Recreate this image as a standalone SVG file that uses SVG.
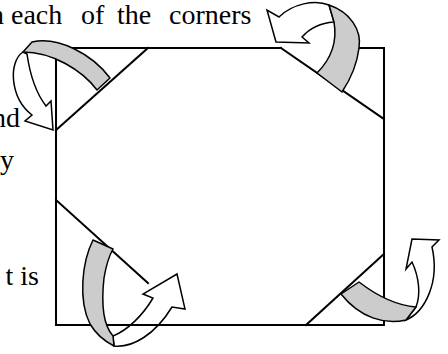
<svg xmlns="http://www.w3.org/2000/svg" width="448" height="354" viewBox="0 0 448 354">
<style>
.t{font-family:"Liberation Serif","Times New Roman",serif;font-size:28px;fill:#000}
.edge{stroke:#000;stroke-width:2;fill:none;stroke-linecap:square}
.band{fill:#cccccc;stroke:#000;stroke-width:1.5;stroke-linejoin:round}
.arrow{fill:none;stroke:#000;stroke-width:1.5;stroke-linejoin:miter}
</style>
<rect width="448" height="354" fill="#fff"/>
<g id="text">
<text class="t" y="24"><tspan x="-10">n</tspan><tspan x="11">each</tspan><tspan x="81">of</tspan><tspan x="117">the</tspan><tspan x="169">corners</tspan></text>
<text class="t" x="20" y="127" text-anchor="end">nd</text>
<text class="t" x="14" y="169" text-anchor="end">y</text>
<text class="t" x="39" y="285" text-anchor="end">t is</text>
</g>
<g id="arrow-bodies">
<path class="arrow" d="M23,52 C8,62 10,98 32,115 L25,121 L53,130 L51,101 L46,106 C36,93 30,75 27,54 Z"/>
<path class="arrow" d="M329,5 C315,-1 292,4 279,17 L267,10 L276,42 L309,43 L302,37 C310,28 320,23 334,22 Z"/>
<path class="arrow" d="M114,346 C132,348 155,335 172,307 L185,309 L177,274 L143,294 L153,298 C143,315 128,330 113,336 Z"/>
<path class="arrow" d="M406,320 C425,312 440,282 432,247 L439,240 L412,239 L406,269 L412,262 C419,277 421,294 416,307 Z"/>
</g>
<g id="square">
<line class="edge" x1="56" y1="48" x2="281" y2="48"/>
<line class="edge" x1="355" y1="48" x2="384" y2="48"/>
<line class="edge" x1="56" y1="48" x2="56" y2="325"/>
<line class="edge" x1="384" y1="48" x2="384" y2="325"/>
<line class="edge" x1="56" y1="325" x2="384" y2="325"/>
</g>
<g id="fold-lines">
<line class="edge" x1="148" y1="48" x2="56" y2="130" stroke-width="1.5"/>
<line class="edge" x1="281" y1="48" x2="384" y2="119" stroke-width="1.5"/>
<line class="edge" x1="56" y1="200" x2="148" y2="283" stroke-width="1.5"/>
<line class="edge" x1="306" y1="325" x2="384" y2="254" stroke-width="1.5"/>
</g>
<g id="bands">
<path class="band" d="M32,42 C58,36 92,54 110,78 L97,90 C82,70 52,52 23,52 Z"/>
<path class="band" d="M329,5 C350,12 362,30 359,48 C357,65 350,80 342,92 L317,73 C328,62 338,45 334,22 Z"/>
<path class="band" d="M93,240 C82,262 78,300 90,324 C96,334 104,341 114,346 L113,336 C104,326 101,305 104,278 C106,266 109,256 113,249 Z"/>
<path class="band" d="M359,282 C372,292 392,305 416,307 L406,320 C385,325 360,318 341,294 Z"/>
</g>
</svg>
